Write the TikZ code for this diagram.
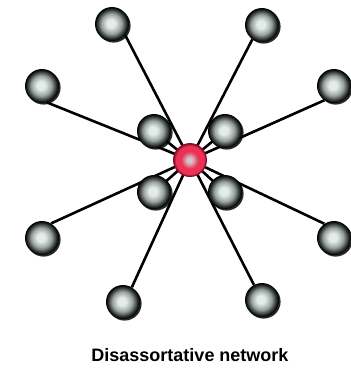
\documentclass[tikz,border=0pt]{standalone}
\usepackage{fontspec}
\setmainfont{Liberation Sans}
\usetikzlibrary{backgrounds,shadows}
\definecolor{ballhi}{RGB}{228,236,232}
\definecolor{ballmid}{RGB}{150,160,156}
\definecolor{balldark}{RGB}{50,56,54}
\definecolor{redhi}{RGB}{210,195,200}
\definecolor{redmid}{RGB}{235,50,85}
\definecolor{reddark}{RGB}{140,10,35}
\pgfdeclareradialshading{grayball}{\pgfpoint{-2bp}{1bp}}{%
  color(0bp)=(ballhi);
  color(6bp)=(ballhi);
  color(15bp)=(ballmid);
  color(21bp)=(balldark);
  color(24.5bp)=(black);
  color(30bp)=(black)}
\pgfdeclareradialshading{redball}{\pgfpoint{-1bp}{0bp}}{%
  color(0bp)=(redhi);
  color(4bp)=(redhi);
  color(13bp)=(redmid);
  color(21bp)=(redmid);
  color(25bp)=(reddark);
  color(30bp)=(reddark)}
\begin{document}
\begin{tikzpicture}[x=1pt,y=-1pt,
  gball/.style={circle,minimum size=34pt,inner sep=0pt,shading=grayball,
    drop shadow={shadow xshift=1.6pt,shadow yshift=-1.6pt,fill=black,opacity=0.85}},
  rball/.style={circle,minimum size=33pt,inner sep=0pt,shading=redball,draw=reddark,line width=0.9pt},
  link/.style={line width=2.6pt,black}]
\useasboundingbox (0,0) rectangle (351,368);
\node[rball] (c) at (190,160) {};
% outer nodes
\node[gball] (o1) at (112,24) {};
\node[gball] (o2) at (262,25) {};
\node[gball] (o3) at (42,86) {};
\node[gball] (o4) at (334,86) {};
\node[gball] (o5) at (42,238) {};
\node[gball] (o6) at (334,238) {};
\node[gball] (o7) at (123,302) {};
\node[gball] (o8) at (262,300) {};
% inner nodes
\node[gball] (i1) at (154,131) {};
\node[gball] (i2) at (225,131) {};
\node[gball] (i3) at (154,192) {};
\node[gball] (i4) at (225,192) {};
\node[font=\bfseries\fontsize{18}{21}\selectfont] (t) at (190,355) {Disassortative network};
\begin{scope}[on background layer]
\draw[link] (o1.-40) -- (c.center);
\draw[link] (o2.-124) -- (c.center);
\draw[link] (o3.-73) -- (c.center);
\draw[link] (o4.-124) -- (c.center);
\draw[link] (o5.58) -- (c.center);
\draw[link] (o6.124) -- (c.center);
\draw[link] (o7.59) -- (c.center);
\draw[link] (o8.118) -- (c.center);
\draw[link] (i1.center) -- (c.center);
\draw[link] (i2.center) -- (c.center);
\draw[link] (i3.center) -- (c.center);
\draw[link] (i4.center) -- (c.center);
\end{scope}
\end{tikzpicture}
\end{document}
